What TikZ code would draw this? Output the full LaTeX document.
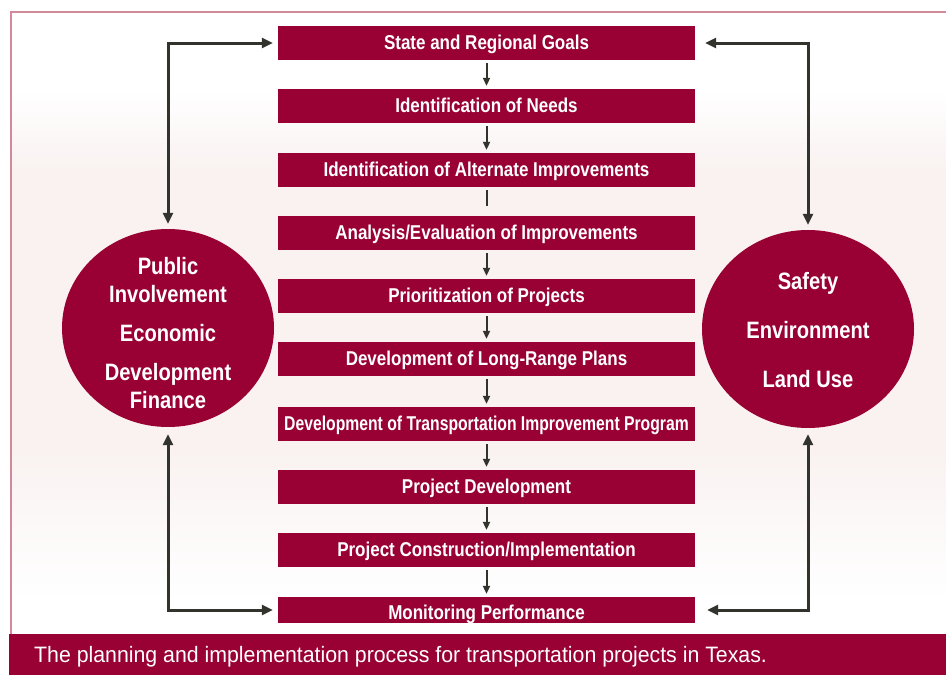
\documentclass[tikz,border=0pt]{standalone}
\usepackage{graphicx}
\usepackage{fontspec}
\setmainfont{Liberation Sans}[FakeStretch=0.85]
\newfontfamily\capfont{Liberation Sans}[FakeStretch=0.955]
\usetikzlibrary{arrows.meta,shapes.geometric}
\definecolor{crimson}{RGB}{153,0,51}
\definecolor{bgpink}{RGB}{249,242,241}
\definecolor{borderpink}{RGB}{212,137,155}
\definecolor{linegray}{RGB}{51,51,45}
\begin{document}
\begin{tikzpicture}[x=1pt,y=-1pt,
 stepbox/.style={fill=crimson,text=white,minimum width=417pt,minimum height=34pt,inner sep=0pt,text height=14pt,text depth=1pt,font=\bfseries\fontsize{20}{22}\selectfont},
 bubble/.style={ellipse,fill=crimson,minimum width=212pt,minimum height=198pt,inner sep=0pt},
 bubbletext/.style={text=white,align=center,inner sep=0pt},
 flow/.style={draw=linegray,line width=2pt,-{Triangle[length=8pt,width=7pt]},shorten <=3pt,shorten >=3pt},
 loopline/.style={draw=linegray,line width=3pt,{Triangle[length=11pt,width=10pt]}-{Triangle[length=11pt,width=10pt]}},
]
\useasboundingbox (0,0) rectangle (946,675);
\fill[white] (0,0) rectangle (946,675);
% background
\shade[top color=white,bottom color=bgpink] (10,90) rectangle (946,171);
\fill[bgpink] (10,170) rectangle (946,451);
\shade[top color=bgpink,bottom color=white] (10,450) rectangle (946,600);
% border and caption bar
\draw[borderpink,line width=2pt] (10.5,634) -- (10.5,11.5) -- (946,11.5);
\fill[crimson] (9,634) rectangle (946,675);
\node[anchor=west,text=white,inner sep=0pt,font=\capfont\fontsize{22.3}{24}\selectfont] (cap) at (34,657) {The planning and implementation process for transportation projects in Texas.};
% boxes
\node[stepbox] (b1) at (486.5,43) {State and Regional Goals};
\node[stepbox] (b2) at (486.5,106) {Identification of Needs};
\node[stepbox] (b3) at (486.5,170) {Identification of Alternate Improvements};
\node[stepbox] (b4) at (486.5,233) {Analysis/Evaluation of Improvements};
\node[stepbox] (b5) at (486.5,296) {Prioritization of Projects};
\node[stepbox] (b6) at (486.5,359) {Development of Long-Range Plans};
\node[stepbox] (b7) at (486.5,424) {\scalebox{0.925}[1]{Development of Transportation Improvement Program}};
\node[stepbox] (b8) at (486.5,487) {Project Development};
\node[stepbox] (b9) at (486.5,550) {Project Construction/Implementation};
\node[stepbox,minimum height=26pt,text height=19pt,text depth=0pt] (b10) at (486.5,610) {Monitoring Performance};
% flow arrows
\draw[flow] (b1.south) -- (b2.north);
\draw[flow] (b2.south) -- (b3.north);
\draw[draw=linegray,line width=2pt,shorten <=3pt,shorten >=10pt] (b3.south) -- (b4.north);
\draw[flow] (b4.south) -- (b5.north);
\draw[flow] (b5.south) -- (b6.north);
\draw[flow] (b6.south) -- (b7.north);
\draw[flow] (b7.south) -- (b8.north);
\draw[flow] (b8.south) -- (b9.north);
\draw[flow] (b9.south) -- (b10.north);
% circles
\node[bubble] (L) at (168,328) {};
\node[bubbletext,font=\bfseries\fontsize{23.7}{28}\selectfont] (Ltext) at (168,333) {Public\\Involvement\\[11pt]Economic\\[11pt]Development\\Finance};
\node[bubble] (R) at (808,329) {};
\node[bubbletext,font=\bfseries\fontsize{23.7}{49}\selectfont] (Rtext) at (808,330) {Safety\\Environment\\Land Use};
% side loops
\draw[loopline,shorten <=5pt,shorten >=5pt] (L.north) |- (b1.west);
\draw[loopline,shorten <=7pt,shorten >=5pt] (L.south) |- (b10.west);
\draw[loopline,shorten <=5pt,shorten >=10pt] (R.north) |- (b1.east);
\draw[loopline,shorten <=6pt,shorten >=12pt] (R.south) |- (b10.east);
\end{tikzpicture}
\end{document}
